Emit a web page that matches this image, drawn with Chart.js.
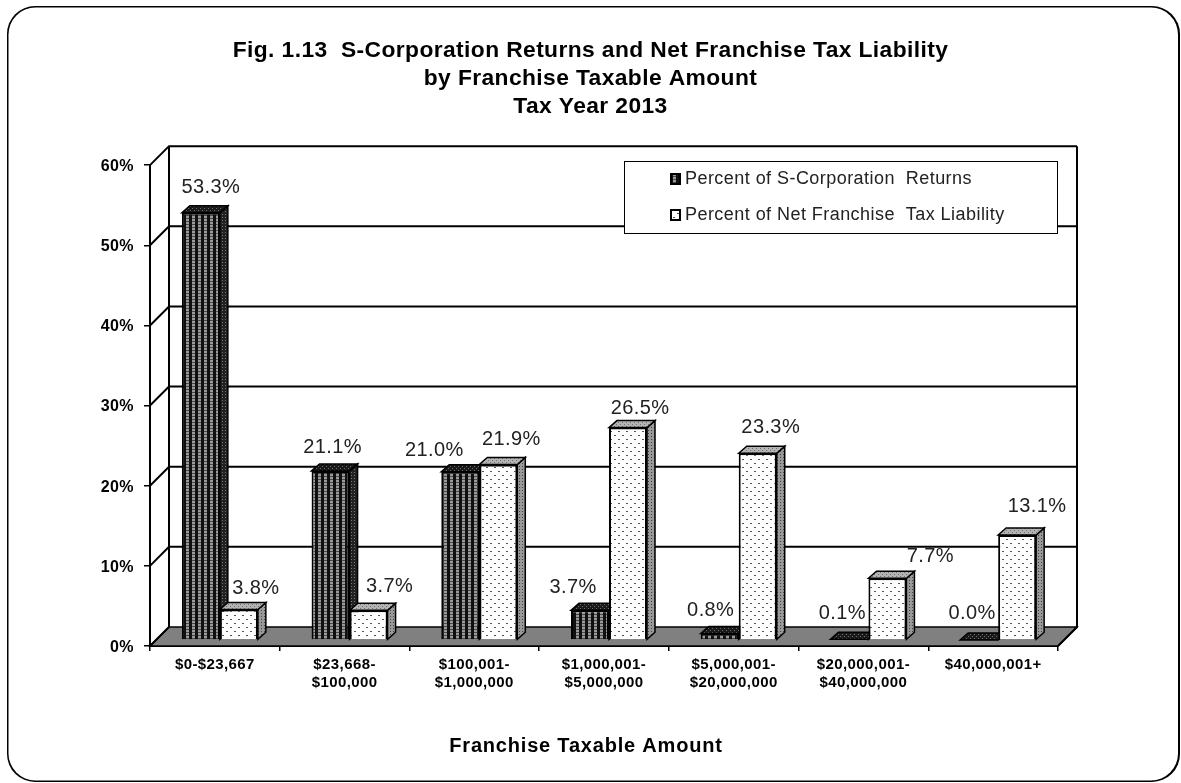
<!DOCTYPE html>
<html>
<head>
<meta charset="utf-8">
<title>Fig. 1.13</title>
<script src="https://cdn.jsdelivr.net/npm/chart.js@4"></script>
<style>
  html, body { margin: 0; padding: 0; background: #fff; overflow: hidden; }
  #box { width: 1181px; height: 783px; }
</style>
</head>
<body>
<div id="box"><canvas id="chart" width="1181" height="783"></canvas></div>
<script>
/* ==========================================
   DATA
========================================== */

const categories = [
  "$0-$23,667",
  ["$23,668-", "$100,000"],
  ["$100,001-", "$1,000,000"],
  ["$1,000,001-", "$5,000,000"],
  ["$5,000,001-", "$20,000,000"],
  ["$20,000,001-", "$40,000,000"],
  "$40,000,001+"
];

const returnsValues = [53.3, 21.1, 21.0, 3.7, 0.8, 0.1, 0.0];
const liabilityValues = [3.8, 3.7, 21.9, 26.5, 23.3, 7.7, 13.1];

const returnsLabel = "Percent of S-Corporation  Returns";
const liabilityLabel = "Percent of Net Franchise  Tax Liability";

const titleLines = [
  "Fig. 1.13  S-Corporation Returns and Net Franchise Tax Liability",
  "by Franchise Taxable Amount",
  "Tax Year 2013"
];
const xAxisTitle = "Franchise Taxable Amount";

/* where the original chart left each value label, relative to its bar */
const returnsNudge = [[10, -25], [2, -23], [-26, -21], [-17, -23], [-9, -23], [-7, -26], [-7, -27]];
const liabilityNudge = [[17, -21], [21, -24], [13, -25], [12, -19], [13, -26], [43, -22], [20, -29]];

/* ==========================================
   LAYOUT CONSTANTS
========================================== */

const FONT = "'Liberation Sans', Arial, sans-serif";
const WALL = 19;      // depth of the floor and walls
const BAR_DX = 5;     // bars stand a little behind the front axis
const BAR_DY = -6;
const DEPTH_X = 8;    // depth of the bars
const DEPTH_Y = 7;

/* ==========================================
   FILL PATTERNS
========================================== */

function makePattern(size, paint) {
  const c = document.createElement("canvas");
  c.width = size;
  c.height = size;
  paint(c.getContext("2d"));
  return c.getContext("2d").createPattern(c, "repeat");
}

const darkFront = makePattern(6, (p) => {
  p.fillStyle = "#101010";
  p.fillRect(0, 0, 6, 6);
  p.fillStyle = "#9a9a9a";
  p.fillRect(1, 0, 3, 2);
  p.fillRect(1, 3, 3, 2);
  p.fillStyle = "#4a4a4a";
  p.fillRect(1, 2, 3, 1);
  p.fillRect(1, 5, 3, 1);
});

const darkSide = makePattern(3, (p) => {
  p.fillStyle = "#222";
  p.fillRect(0, 0, 3, 3);
  p.fillStyle = "#777";
  p.fillRect(1, 1, 1, 1);
});

const darkTop = makePattern(4, (p) => {
  p.fillStyle = "#1a1a1a";
  p.fillRect(0, 0, 4, 4);
  p.fillStyle = "#707070";
  p.fillRect(1, 0, 1, 1);
  p.fillRect(3, 2, 1, 1);
});

const lightFront = makePattern(8, (p) => {
  p.fillStyle = "#fff";
  p.fillRect(0, 0, 8, 8);
  p.fillStyle = "#555";
  p.fillRect(1, 1, 2, 1);
  p.fillRect(5, 5, 2, 1);
});

const lightSide = makePattern(3, (p) => {
  p.fillStyle = "#999";
  p.fillRect(0, 0, 3, 3);
  p.fillStyle = "#444";
  p.fillRect(1, 1, 1, 1);
});

const lightTop = makePattern(4, (p) => {
  p.fillStyle = "#b4b4b4";
  p.fillRect(0, 0, 4, 4);
  p.fillStyle = "#6e6e6e";
  p.fillRect(1, 0, 1, 1);
  p.fillRect(3, 2, 1, 1);
});

/* ==========================================
   PLUGINS
========================================== */

function face(ctx, pts, fill) {
  ctx.beginPath();
  pts.forEach((pt, i) => (i ? ctx.lineTo(pt[0], pt[1]) : ctx.moveTo(pt[0], pt[1])));
  ctx.closePath();
  ctx.fillStyle = fill;
  ctx.fill();
  ctx.stroke();
}

/* white sheet with the rounded frame */
const framePlugin = {
  id: "frame",
  afterLayout(chart) {
    // title is centred on the whole sheet, not on the plot
    chart.titleBlock.left = 0;
    chart.titleBlock.right = chart.width;
  },
  beforeDraw(chart) {
    const ctx = chart.ctx;
    ctx.save();
    ctx.fillStyle = "#000";
    ctx.beginPath();
    ctx.roundRect(7, 6, 1173, 776, 28);
    ctx.fill();
    ctx.fillStyle = "#fff";
    ctx.beginPath();
    ctx.roundRect(8.5, 7.5, 1169.5, 773, 27);
    ctx.fill();
    ctx.restore();
    // the original text runs a little wide
    ctx.letterSpacing = "0.4px";
  }
};

/* back wall, side wall and floor, hung on the y scale */
const wallsPlugin = {
  id: "walls",
  beforeDatasetsDraw(chart) {
    const ctx = chart.ctx;
    const y = chart.scales.y;
    const a = chart.chartArea;
    ctx.save();
    ctx.strokeStyle = "#000";
    ctx.lineWidth = 1.5;
    face(ctx, [
      [a.left, a.bottom],
      [a.right, a.bottom],
      [a.right + WALL, a.bottom - WALL],
      [a.left + WALL, a.bottom - WALL]
    ], "#808080");

    ctx.lineWidth = 2;
    y.ticks.forEach((t) => {
      const py = y.getPixelForValue(t.value);
      ctx.beginPath();
      ctx.moveTo(a.left, py);
      ctx.lineTo(a.left + WALL, py - WALL);
      if (t.value > 0) ctx.lineTo(a.right + WALL, py - WALL);
      ctx.stroke();
    });

    ctx.beginPath();
    ctx.moveTo(a.left + WALL, a.top - WALL);
    ctx.lineTo(a.left + WALL, a.bottom - WALL);
    ctx.moveTo(a.right + WALL, a.top - WALL);
    ctx.lineTo(a.right + WALL, a.bottom - WALL);
    ctx.lineTo(a.right, a.bottom);
    ctx.stroke();
    ctx.restore();

    // the bars and their depth faces share this shift
    ctx.save();
    ctx.translate(BAR_DX, BAR_DY);
    ctx.strokeStyle = "#000";
    ctx.lineWidth = 1.5;
    chart.getSortedVisibleDatasetMetas().forEach((meta) => {
      const dark = meta.index === 0;
      meta.data.forEach((bar) => {
        const l = bar.x - bar.width / 2;
        const r = bar.x + bar.width / 2;
        face(ctx, [[r, bar.y], [r + DEPTH_X, bar.y - DEPTH_Y], [r + DEPTH_X, bar.base - DEPTH_Y], [r, bar.base]],
          dark ? darkSide : lightSide);
        face(ctx, [[l, bar.y], [l + DEPTH_X, bar.y - DEPTH_Y], [r + DEPTH_X, bar.y - DEPTH_Y], [r, bar.y]],
          dark ? darkTop : lightTop);
      });
    });
  },
  afterDatasetsDraw(chart) {
    chart.ctx.restore();
  }
};

/* value labels, axis title and the boxed legend */
const notesPlugin = {
  id: "notes",
  afterDraw(chart) {
    const ctx = chart.ctx;
    ctx.save();
    ctx.font = "20px " + FONT;
    ctx.fillStyle = "#222";
    ctx.textAlign = "center";
    ctx.textBaseline = "middle";
    [[returnsValues, returnsNudge], [liabilityValues, liabilityNudge]].forEach((set, d) => {
      chart.getDatasetMeta(d).data.forEach((bar, i) => {
        const text = set[0][i].toFixed(1) + "%";
        ctx.fillText(text, bar.x + BAR_DX + set[1][i][0], bar.y + BAR_DY + set[1][i][1]);
      });
    });

    ctx.font = "bold 20px " + FONT;
    ctx.fillStyle = "#000";
    ctx.letterSpacing = "0.8px";
    ctx.fillText(xAxisTitle, 586, 746);

    // legend box
    ctx.fillStyle = "#fff";
    ctx.strokeStyle = "#000";
    ctx.lineWidth = 1;
    ctx.fillRect(624.5, 161.5, 433, 72);
    ctx.strokeRect(624.5, 161.5, 433, 72);

    ctx.font = "18px " + FONT;
    ctx.letterSpacing = "0.45px";
    ctx.textAlign = "left";
    [[returnsLabel, darkFront, 179], [liabilityLabel, lightFront, 215]].forEach((row) => {
      ctx.fillStyle = row[1];
      ctx.fillRect(671, row[2] - 4, 8, 8);
      ctx.lineWidth = 2;
      ctx.strokeRect(671, row[2] - 5, 9, 10);
      ctx.fillStyle = "#222";
      ctx.fillText(row[0], 685, row[2]);
    });
    ctx.restore();
  }
};

/* ==========================================
   CHART
========================================== */

new Chart(document.getElementById("chart"), {
  type: "bar",

  data: {
    labels: categories,
    datasets: [
      {
        label: returnsLabel,
        data: returnsValues,
        backgroundColor: darkFront,
        borderColor: "#000",
        borderWidth: 2,
        clip: false
      },
      {
        label: liabilityLabel,
        data: liabilityValues,
        backgroundColor: lightFront,
        borderColor: "#000",
        borderWidth: 2,
        clip: false
      }
    ]
  },

  options: {
    responsive: false,
    animation: false,
    categoryPercentage: 0.586,
    barPercentage: 1,

    layout: {
      autoPadding: false,
      padding: { left: 0, right: 123, top: 37, bottom: 27 }
    },

    plugins: {
      legend: { display: false },
      tooltip: { enabled: false },
      title: {
        display: true,
        text: titleLines,
        color: "#000",
        font: { family: FONT, size: 22.8, weight: "bold", lineHeight: 1.23 },
        padding: { top: 0, bottom: 44 }
      }
    },

    scales: {
      x: {
        offset: true,
        border: { color: "#000", width: 2 },
        grid: { drawOnChartArea: false, color: "#000", lineWidth: 1.5, tickLength: 5 },
        ticks: {
          color: "#000",
          padding: 5,
          maxRotation: 0,
          autoSkip: false,
          font: { family: FONT, size: 15, weight: "bold", lineHeight: 1.2 }
        },
        afterFit(scale) {
          scale.height = 110;
        }
      },
      y: {
        min: 0,
        max: 60,
        border: { color: "#000", width: 2 },
        grid: { drawOnChartArea: false, color: "#000", lineWidth: 1.5, tickLength: 6 },
        ticks: {
          stepSize: 10,
          color: "#000",
          padding: 10,
          labelOffset: 1.5,
          font: { family: FONT, size: 16, weight: "bold" },
          callback: (v) => v + "%"
        },
        afterFit(scale) {
          scale.width = 150;
        }
      }
    }
  },

  plugins: [framePlugin, wallsPlugin, notesPlugin]
});
</script>
</body>
</html>
